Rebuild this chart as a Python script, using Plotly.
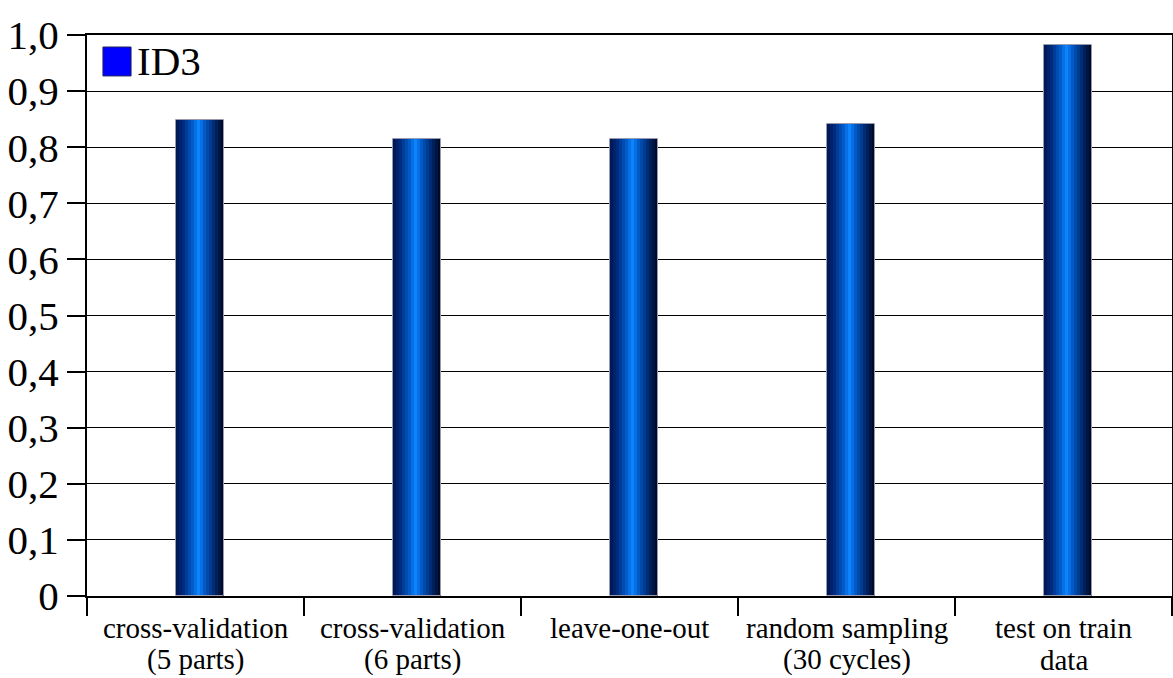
import plotly.graph_objects as go

categories = ["cross-validation<br>(5 parts)", "cross-validation<br>(6 parts)",
              "leave-one-out", "random sampling<br>(30 cycles)", "test on train<br>data"]
series_name = "ID3"
values = [0.848, 0.815, 0.815, 0.841, 0.982]
y_ticks = [0, 0.1, 0.2, 0.3, 0.4, 0.5, 0.6, 0.7, 0.8, 0.9, 1.0]
y_labels = ["0", "0,1", "0,2", "0,3", "0,4", "0,5", "0,6", "0,7", "0,8", "0,9", "1,0"]

FONT = "Liberation Serif, Times New Roman, serif"

# cylinder-like shading stops (position across bar, rgb)
stops = [(0.0, (0, 22, 80)), (0.15, (0, 42, 125)), (0.33, (0, 88, 195)),
         (0.47, (12, 132, 255)), (0.6, (0, 88, 195)), (0.8, (0, 40, 110)),
         (1.0, (0, 4, 28))]


def shade(t):
    for (t0, c0), (t1, c1) in zip(stops[:-1], stops[1:]):
        if t0 <= t <= t1:
            f = (t - t0) / (t1 - t0)
            return "rgb(%d,%d,%d)" % tuple(round(a + (b - a) * f) for a, b in zip(c0, c1))
    return "rgb(%d,%d,%d)" % stops[-1][1]


fig = go.Figure()
bar_w = 0.221
shift = 0.02
n = 16
sw = bar_w / n
for i in range(n):
    t = (i + 0.5) / n
    w = sw * (1.6 if i < n - 1 else 1.0)
    fig.add_trace(go.Bar(x=categories, y=values, width=w,
                         offset=-bar_w / 2 + shift + i * sw,
                         marker=dict(color=shade(t), line=dict(width=0)),
                         showlegend=False, hoverinfo="skip"))
# outline
fig.add_trace(go.Bar(x=categories, y=values, width=bar_w, offset=-bar_w / 2 + shift,
                     marker=dict(color="rgba(0,0,0,0)", line=dict(color="#9a9aae", width=1)),
                     showlegend=False, hoverinfo="skip"))

# x labels as two-line annotations
for c in categories:
    parts = c.split("<br>")
    for j, p in enumerate(parts):
        fig.add_annotation(x=c, xref="x", y=-0.057 - 0.057 * j, yref="paper",
                           text=p, showarrow=False, xanchor="center", yanchor="middle",
                           font=dict(family=FONT, size=29, color="black"))

# legend
fig.add_shape(type="rect", xref="paper", yref="paper",
              x0=0.0147, x1=0.0406, y0=0.927, y1=0.9786,
              fillcolor="#0000ff", line=dict(color="#202060", width=1))
fig.add_annotation(x=0.0442, y=0.954, xref="paper", yref="paper", text=series_name,
                   showarrow=False, xanchor="left", yanchor="middle",
                   font=dict(family=FONT, size=41, color="black"))

fig.update_layout(
    width=1173, height=678,
    margin=dict(l=87, r=1, t=35, b=82, autoexpand=False),
    plot_bgcolor="white", paper_bgcolor="white",
    barmode="overlay", bargap=0,
    showlegend=False,
    font=dict(family=FONT, color="black"),
    xaxis=dict(type="category", range=[-0.5, 4.5], tickson="boundaries",
               ticks="outside", ticklen=18, tickwidth=2, tickcolor="black",
               showticklabels=False, showline=True, linecolor="black", linewidth=2,
               mirror=True, showgrid=False, zeroline=False, automargin=False),
    yaxis=dict(range=[0, 1.0], tickvals=y_ticks, ticktext=y_labels,
               ticks="outside", ticklen=18, tickwidth=2, tickcolor="black",
               tickfont=dict(family=FONT, size=41, color="black"),
               showline=True, linecolor="black", linewidth=2, mirror=True,
               showgrid=True, gridcolor="black", gridwidth=1, zeroline=False,
               automargin=False),
)

fig.write_html("out.html", config={"displayModeBar": False},
               post_script="document.body.style.margin='0px';document.body.style.padding='0px';")
